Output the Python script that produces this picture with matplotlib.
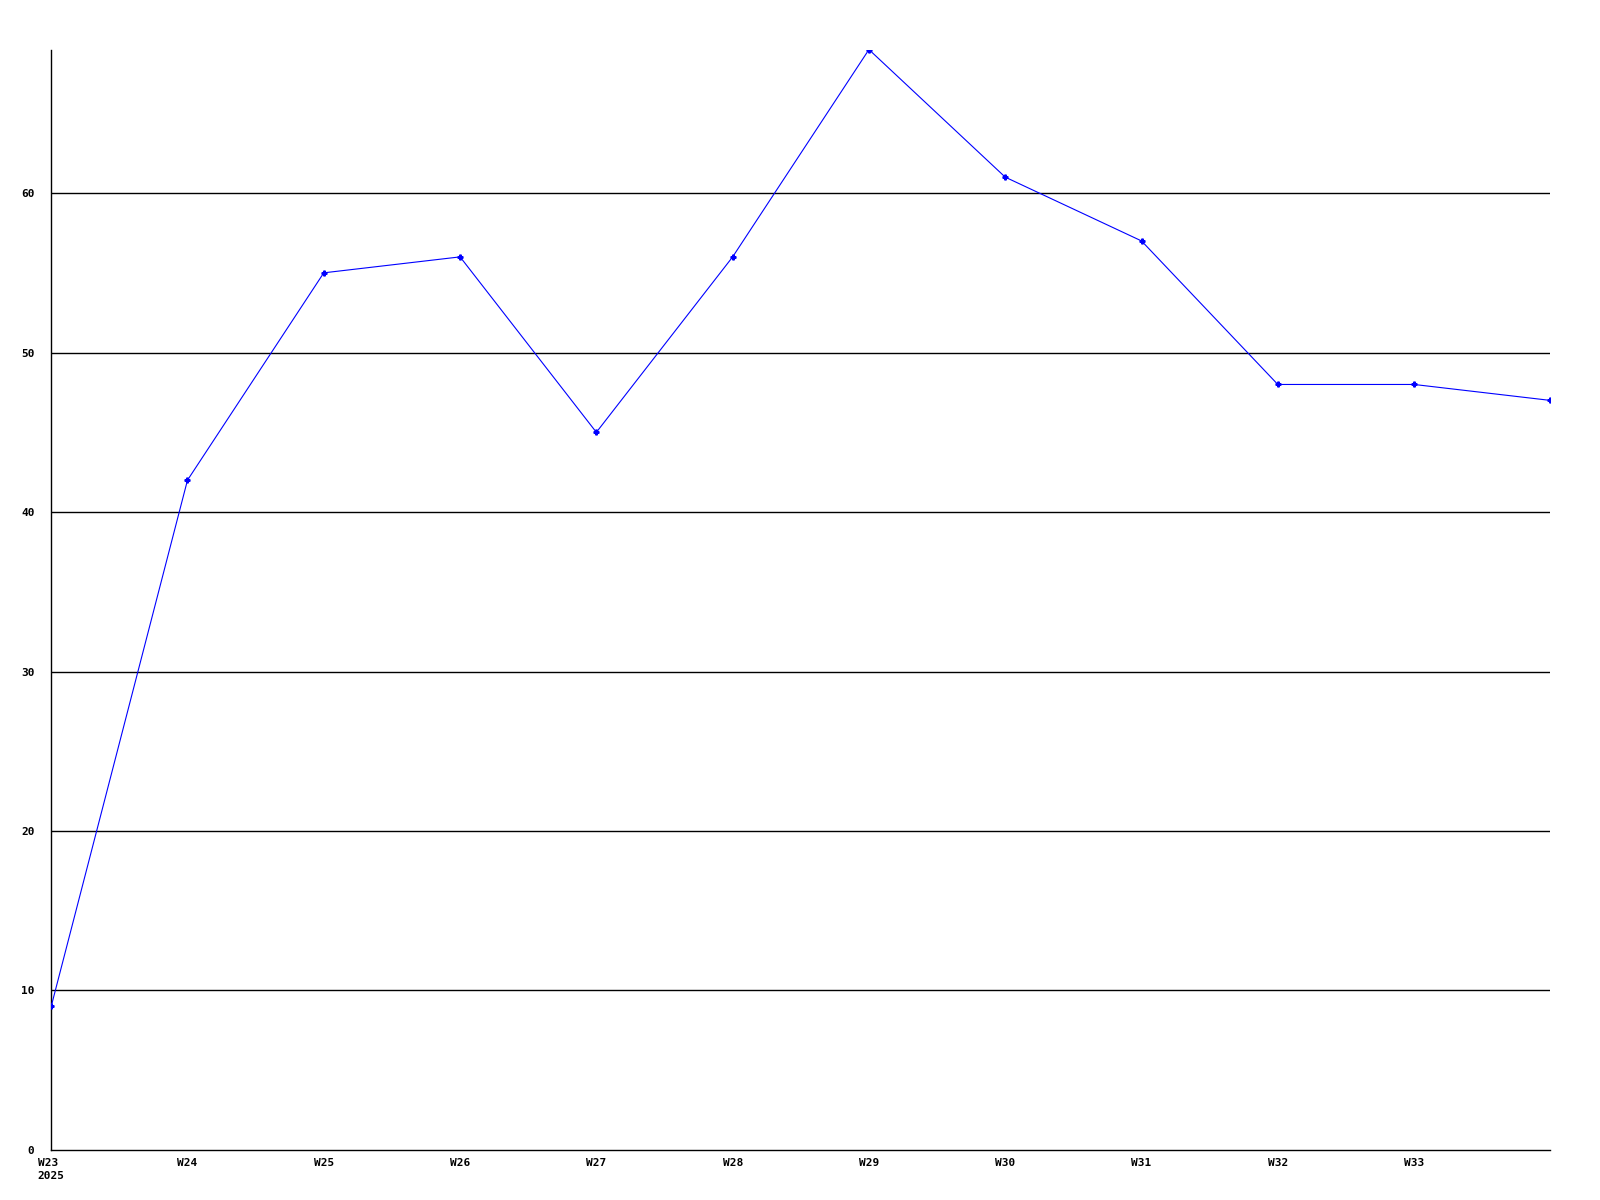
import matplotlib
matplotlib.use("Agg")
import matplotlib.pyplot as plt

# weekly values
weeks = ["W23", "W24", "W25", "W26", "W27", "W28", "W29", "W30", "W31", "W32", "W33", "W34"]
values = [9, 42, 55, 56, 45, 56, 69, 61, 57, 48, 48, 47]
tick_labels = ["W23\n2025", "W24", "W25", "W26", "W27", "W28", "W29", "W30", "W31", "W32", "W33"]
y_ticks = [0, 10, 20, 30, 40, 50, 60]

fig = plt.figure(figsize=(16, 12), dpi=100)
ax = fig.add_axes([0.032, 0.0417, 0.937, 0.917])

x = list(range(len(weeks)))
for yt in y_ticks[1:]:
    ax.axhline(yt, color="black", lw=1.0, zorder=1)
ax.plot(x, values, color="#0000ff", lw=0.8, marker="P", ms=3.5, zorder=3)

ax.set_xlim(0, len(weeks) - 1)
ax.set_ylim(0, max(values))
ax.set_xticks(x[:len(tick_labels)])
ax.set_xticklabels(tick_labels, ha="center", va="top", linespacing=1.3)
ax.set_yticks(y_ticks)
ax.set_yticklabels([str(v) for v in y_ticks])
ax.tick_params(length=0, labelsize=8)
for lab in ax.get_xticklabels() + ax.get_yticklabels():
    lab.set_fontfamily("DejaVu Sans Mono")
    lab.set_fontweight("bold")
ax.get_xticklabels()[0].set_multialignment("left")
ax.tick_params(axis="y", pad=12)
ax.tick_params(axis="x", pad=6)

ax.spines["top"].set_visible(False)
ax.spines["right"].set_visible(False)
ax.spines["left"].set_linewidth(1.0)
ax.spines["bottom"].set_linewidth(1.0)

fig.savefig("out.png", dpi=100)
